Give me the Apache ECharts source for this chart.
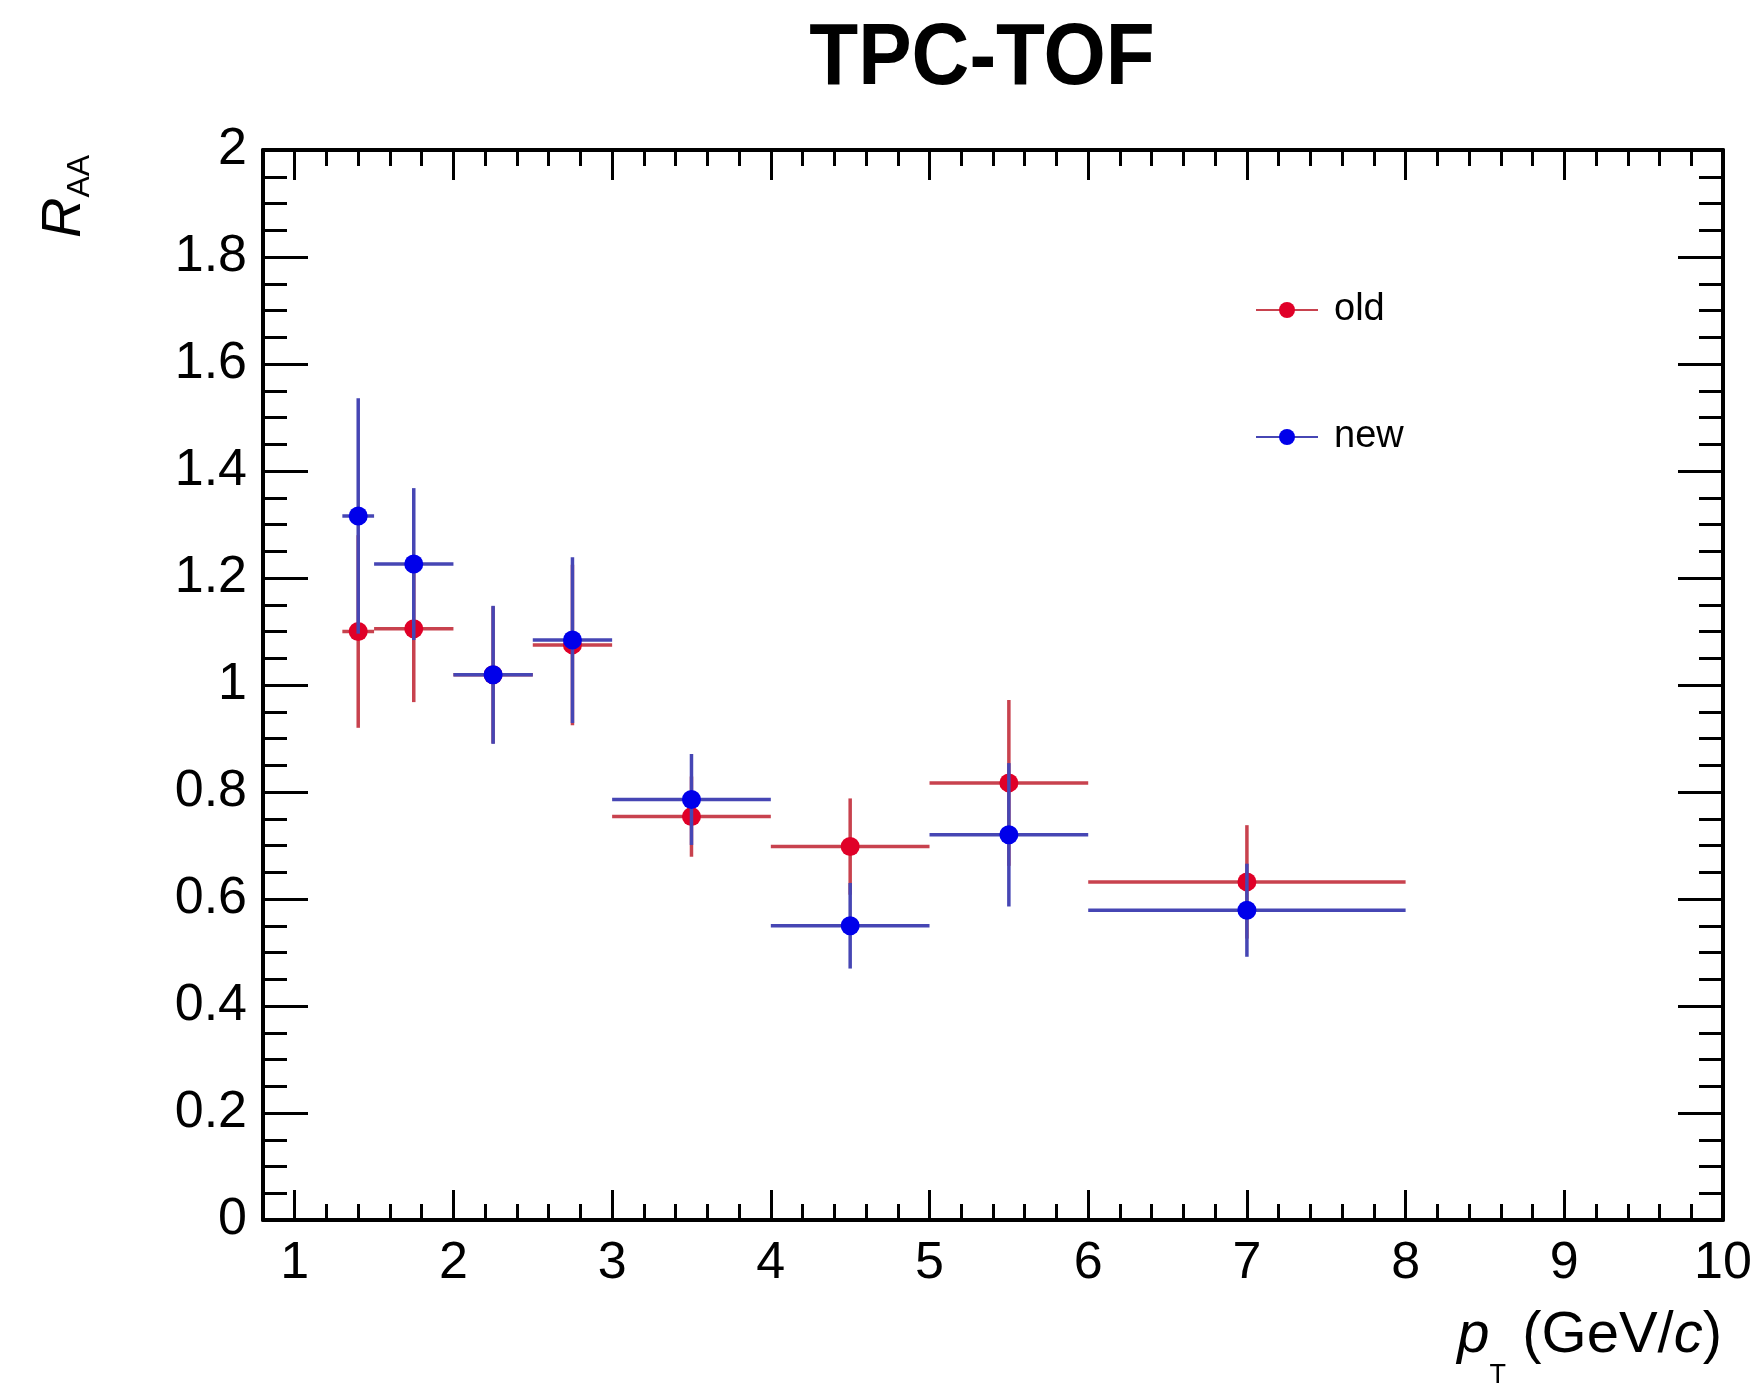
<!DOCTYPE html>
<html>
<head>
<meta charset="utf-8">
<script src="https://cdn.jsdelivr.net/npm/echarts@6/dist/echarts.min.js"></script>
<style>
html, body { margin: 0; padding: 0; background: #fff; }
#chart { width: 1762px; height: 1386px; }
</style>
</head>
<body>
<div id="chart"></div>
<script>
// ---- data ----
const binCenters = [1.4, 1.75, 2.25, 2.75, 3.5, 4.5, 5.5, 7.0];
const binLow     = [1.3, 1.5, 2.0, 2.5, 3.0, 4.0, 5.0, 6.0];
const binHigh    = [1.5, 2.0, 2.5, 3.0, 4.0, 5.0, 6.0, 8.0];
const oldValues  = [1.100, 1.105, 1.019, 1.075, 0.754, 0.698, 0.817, 0.632];
const oldErrors  = [0.180, 0.137, 0.128, 0.150, 0.075, 0.090, 0.155, 0.106];
const newValues  = [1.316, 1.226, 1.019, 1.084, 0.786, 0.550, 0.720, 0.579];
const newErrors  = [0.220, 0.142, 0.129, 0.155, 0.085, 0.080, 0.134, 0.087];
const xTickLabels = [1, 2, 3, 4, 5, 6, 7, 8, 9, 10];
const seriesNames = ['old', 'new'];

const FONT = 'Liberation Sans';
const RED_LINE = '#c8424e', RED_MARK = '#e00028';
const BLUE_LINE = '#4646b4', BLUE_MARK = '#0000ea';

function buildRows(vals, errs) {
  return binCenters.map((x, i) => [x, vals[i], binLow[i], binHigh[i], vals[i] - errs[i], vals[i] + errs[i]]);
}

function makeRender(lineColor, markColor) {
  return function (params, api) {
    const x = api.value(0), y = api.value(1);
    const c = api.coord([x, y]);
    const l = api.coord([api.value(2), y]);
    const h = api.coord([api.value(3), y]);
    const b = api.coord([x, api.value(4)]);
    const t = api.coord([x, api.value(5)]);
    return {
      type: 'group',
      children: [
        { type: 'line', shape: { x1: l[0], y1: l[1], x2: h[0], y2: h[1] }, style: { stroke: lineColor, lineWidth: 3.5 } },
        { type: 'line', shape: { x1: b[0], y1: b[1], x2: t[0], y2: t[1] }, style: { stroke: lineColor, lineWidth: 3.5 } },
        { type: 'circle', shape: { cx: c[0], cy: c[1], r: 9.5 }, style: { fill: markColor } }
      ]
    };
  };
}

const frameLine = { show: true, onZero: false, lineStyle: { color: '#000', width: 4 } };
const XMIN = 0.8, XMAX = 10;

const option = {
  animation: false,
  backgroundColor: '#fff',
  grid: { left: 263, right: 39, top: 150, bottom: 166, containLabel: false },
  xAxis: [
    { // bottom major with labels
      type: 'value', position: 'bottom', min: XMIN, max: XMAX,
      axisLine: frameLine,
      axisTick: { show: true, inside: true, length: 30, customValues: xTickLabels, lineStyle: { color: '#000', width: 3 } },
      axisLabel: { show: true, customValues: xTickLabels, margin: 18, fontSize: 52, fontFamily: FONT, color: '#000' },
      splitLine: { show: false }
    },
    { // bottom minor
      type: 'value', position: 'bottom', min: XMIN, max: XMAX, interval: 0.2,
      axisLine: { show: false, onZero: false },
      axisTick: { show: true, inside: true, length: 16, lineStyle: { color: '#000', width: 3 } },
      axisLabel: { show: false }, splitLine: { show: false }
    },
    { // top major
      type: 'value', position: 'top', min: XMIN, max: XMAX,
      axisLine: frameLine,
      axisTick: { show: true, inside: true, length: 30, customValues: xTickLabels, lineStyle: { color: '#000', width: 3 } },
      axisLabel: { show: false }, splitLine: { show: false }
    },
    { // top minor
      type: 'value', position: 'top', min: XMIN, max: XMAX, interval: 0.2,
      axisLine: { show: false, onZero: false },
      axisTick: { show: true, inside: true, length: 16, lineStyle: { color: '#000', width: 3 } },
      axisLabel: { show: false }, splitLine: { show: false }
    }
  ],
  yAxis: [
    {
      type: 'value', position: 'left', min: 0, max: 2, interval: 0.2,
      axisLine: frameLine,
      axisTick: { show: true, inside: true, length: 45, lineStyle: { color: '#000', width: 3 } },
      minorTick: { show: true, splitNumber: 4, length: 24, lineStyle: { color: '#000', width: 3 } },
      axisLabel: { show: true, margin: 16, fontSize: 52, fontFamily: FONT, color: '#000' },
      splitLine: { show: false }, minorSplitLine: { show: false }
    },
    {
      type: 'value', position: 'right', min: 0, max: 2, interval: 0.2,
      axisLine: frameLine,
      axisTick: { show: true, inside: true, length: 45, lineStyle: { color: '#000', width: 3 } },
      minorTick: { show: true, splitNumber: 4, length: 24, lineStyle: { color: '#000', width: 3 } },
      axisLabel: { show: false },
      splitLine: { show: false }, minorSplitLine: { show: false }
    }
  ],
  legend: {
    data: seriesNames,
    orient: 'vertical',
    left: 1250, top: 286,
    itemWidth: 62, itemHeight: 20, itemGap: 89,
    selectedMode: false,
    textStyle: { fontSize: 38, fontFamily: FONT, color: '#000', padding: [0, 0, 0, 11] }
  },
  series: [
    {
      name: seriesNames[0], type: 'line', data: [], symbol: 'circle', symbolSize: 20,
      lineStyle: { color: RED_LINE, width: 3.5 }, itemStyle: { color: RED_MARK }
    },
    {
      name: seriesNames[1], type: 'line', data: [], symbol: 'circle', symbolSize: 20,
      lineStyle: { color: BLUE_LINE, width: 3.5 }, itemStyle: { color: BLUE_MARK }
    },
    {
      name: 'old points', type: 'custom', xAxisIndex: 0, yAxisIndex: 0,
      renderItem: makeRender(RED_LINE, RED_MARK),
      encode: { x: [0, 2, 3], y: [1, 4, 5] },
      data: buildRows(oldValues, oldErrors), z: 3
    },
    {
      name: 'new points', type: 'custom', xAxisIndex: 0, yAxisIndex: 0,
      renderItem: makeRender(BLUE_LINE, BLUE_MARK),
      encode: { x: [0, 2, 3], y: [1, 4, 5] },
      data: buildRows(newValues, newErrors), z: 4
    }
  ],
  graphic: [
    {
      type: 'text', x: 982, y: 60, scaleX: 0.91, scaleY: 1,
      style: { text: 'TPC-TOF', fontSize: 88, fontWeight: 'bold', fontFamily: FONT, fill: '#000', align: 'center', verticalAlign: 'middle' }
    },
    {
      type: 'text', x: 1722, y: 1336,
      style: {
        text: '{p|p}{t|T}{n| (GeV/}{c|c}{n|)}',
        align: 'right', verticalAlign: 'middle',
        rich: {
          p: { fontSize: 58, fontStyle: 'italic', fontFamily: FONT, fill: '#000', lineHeight: 106, verticalAlign: 'middle' },
          t: { fontSize: 27, fontFamily: FONT, fill: '#000', lineHeight: 106, verticalAlign: 'bottom' },
          n: { fontSize: 58, fontFamily: FONT, fill: '#000', lineHeight: 106, verticalAlign: 'middle' },
          c: { fontSize: 58, fontStyle: 'italic', fontFamily: FONT, fill: '#000', lineHeight: 106, verticalAlign: 'middle' }
        }
      }
    },
    {
      type: 'text', x: 64, y: 238, rotation: Math.PI / 2,
      style: {
        text: '{r|R}{s|AA}',
        align: 'left', verticalAlign: 'middle',
        rich: {
          r: { fontSize: 56, fontStyle: 'italic', fontFamily: FONT, fill: '#000', lineHeight: 64, verticalAlign: 'middle' },
          s: { fontSize: 32, fontFamily: FONT, fill: '#000', lineHeight: 64, verticalAlign: 'bottom' }
        }
      }
    }
  ]
};

const chart = echarts.init(document.getElementById('chart'), null, { renderer: 'canvas' });
chart.setOption(option);
</script>
</body>
</html>
